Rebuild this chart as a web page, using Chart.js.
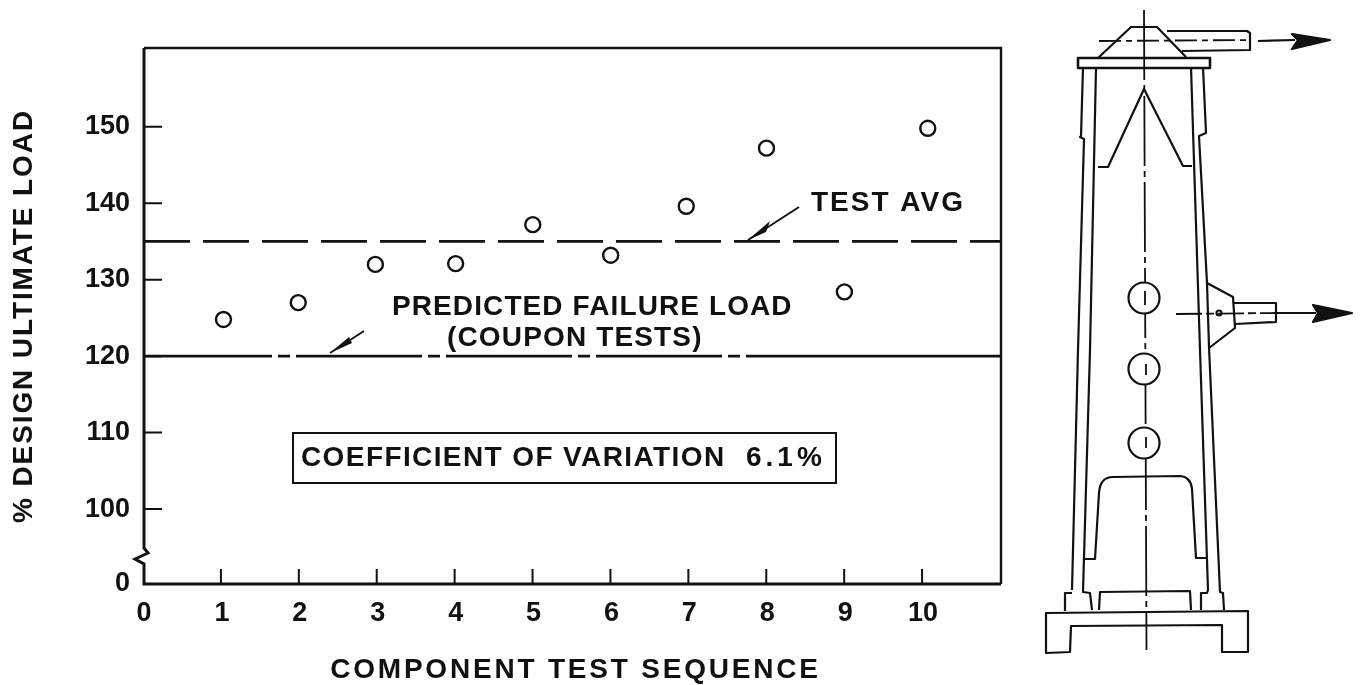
<!DOCTYPE html>
<html><head><meta charset="utf-8">
<style>html,body{margin:0;padding:0;background:#fff}#w{position:relative;width:1361px;height:685px;overflow:hidden}canvas,svg{position:absolute;left:0;top:0}</style>
<script src="https://cdn.jsdelivr.net/npm/chart.js@4"></script>
</head><body><div id="w"><canvas id="c" width="1361" height="685"></canvas>
<svg width="1361" height="685" viewBox="0 0 1361 685" fill="none" stroke="#111" stroke-width="2.2" stroke-linejoin="round">
<path d="M1144 10L1146.5 650" stroke-width="1.8" stroke-dasharray="70 5 6 5"/>
<path d="M1098 58L1131 27L1157 27L1186 57"/>
<rect x="1078" y="58" width="132" height="10" stroke-width="2.6"/>
<path d="M1167 31L1247 31L1250 33L1250 50L1182 51"/>
<path d="M1099 41L1250 40" stroke-width="1.8" stroke-dasharray="22 5 6 5"/>
<path d="M1258 41L1295 40"/><path d="M1292 34L1330 40L1292 49L1298 40Z" fill="#111"/>
<path d="M1083 68L1081 136L1080 137L1084 139L1078 350L1072 590"/>
<path d="M1096 68L1090 350L1083 592L1090 593L1092 610"/>
<path d="M1203 67L1206 133L1199 136L1207 283L1209 347L1220 592L1223 593L1224 610"/>
<path d="M1191 67L1200 350L1208 590L1207 593L1201 593L1201 610"/>
<path d="M1072 593L1065 593L1065 611"/>
<path d="M1099 610L1100 592L1190 591L1191 610"/>
<path d="M1046 613L1248 611L1248 652L1222 652L1222 625L1071 626L1070 652L1046 653Z"/>
<path d="M1085 559L1095 559L1099 493Q1100 477 1113 477L1180 476Q1191 477 1192 489L1196 558L1207 558"/>
<path d="M1098 167L1108 167L1144 89L1183 166L1192 166"/>
<circle cx="1144" cy="298" r="15.5" fill="#fff"/><circle cx="1144" cy="369" r="15.5" fill="#fff"/><circle cx="1144" cy="443" r="15.5" fill="#fff"/>
<path d="M1145 291L1145 305M1146 364L1146 375M1146 437L1146 448" stroke-width="1.8"/>
<path d="M1207 283L1233 297L1235 328L1209 348"/><circle cx="1219" cy="313" r="2.5"/>
<path d="M1234 303L1276 303L1276 322L1235 324"/>
<path d="M1176 314L1275 313" stroke-width="1.8" stroke-dasharray="26 4 8 4"/>
<path d="M1277 313L1316 313"/><path d="M1313 305L1352 313L1313 322L1318 313Z" fill="#111"/>
</svg></div>
<script>
const xTickValues = [0, 1, 2, 3, 4, 5, 6, 7, 8, 9, 10];
const yTickValues = [100, 110, 120, 130, 140, 150];
const yBreakBase = 90.2;
const yBreakLabel = "0";
const testSequence = [1.02, 1.98, 2.97, 4.0, 4.99, 5.99, 6.96, 7.99, 8.99, 10.06];
const designLoadPct = [124.8, 127.0, 132.0, 132.1, 137.2, 133.2, 139.6, 147.2, 128.4, 149.8];
const testAvg = 135;
const predictedFailure = 120;
const xLimits = [0, 11];
const yMax = 160.3;
const INK = "#111";
const FONT = "'Liberation Sans', Arial, sans-serif";

function spaced(scale, px, dx) {
  if (scale._sp) return;
  scale._sp = true;
  const o = scale.drawTitle;
  scale.drawTitle = function () {
    const c = this.ctx; c.save(); c.translate(dx, 0); c.letterSpacing = px + "px"; o.call(this); c.restore();
  };
}
function say(c, s, x, y, size, ls, align) {
  c.font = "bold " + size + "px " + FONT; c.letterSpacing = ls + "px";
  c.textAlign = align || "left"; c.textBaseline = "middle"; c.fillStyle = INK; c.fillText(s, x, y);
}
const decor = {
  id: "decor",
  beforeDraw(ch) {
    ch.ctx.letterSpacing = "0px";
    spaced(ch.scales.x, 2.8, 3); spaced(ch.scales.y, 1.9, 0);
  },
  beforeDatasetsDraw(ch) {
    const c = ch.ctx, a = ch.chartArea, xs = ch.scales.x, ys = ch.scales.y;
    c.save(); c.strokeStyle = INK; c.lineCap = "butt";
    c.lineWidth = 3; c.beginPath();
    c.moveTo(a.left, a.top); c.lineTo(a.left, 548); c.lineTo(148, 553); c.lineTo(135, 559); c.lineTo(a.left, 564); c.lineTo(a.left, a.bottom + 1.5);
    c.moveTo(a.left - 1.5, a.bottom); c.lineTo(a.right, a.bottom); c.stroke();
    c.lineWidth = 2.4; c.beginPath();
    c.moveTo(a.left, a.top); c.lineTo(a.right, a.top); c.lineTo(a.right, a.bottom); c.stroke();
    c.lineWidth = 2; c.beginPath();
    xTickValues.slice(1).forEach(v => { const p = xs.getPixelForValue(v) - 1; c.moveTo(p, a.bottom); c.lineTo(p, a.bottom - 15); });
    yTickValues.forEach(v => { const p = ys.getPixelForValue(v); c.moveTo(a.left, p); c.lineTo(a.left + 18, p); });
    c.stroke(); c.restore();
  },
  afterDatasetsDraw(ch) {
    const c = ch.ctx;
    c.save(); c.strokeStyle = INK; c.fillStyle = INK;
    c.lineWidth = 2; c.beginPath();
    c.moveTo(799, 207); c.lineTo(748, 240); c.moveTo(364, 331); c.lineTo(330, 353); c.stroke();
    c.beginPath(); c.moveTo(748, 240); c.lineTo(770, 221); c.lineTo(766, 232); c.closePath(); c.fill();
    c.beginPath(); c.moveTo(330, 353); c.lineTo(349, 337); c.lineTo(352, 343); c.closePath(); c.fill();
    say(c, "TEST AVG", 811, 203, 28, 2);
    say(c, "PREDICTED FAILURE LOAD", 392, 307, 28, 1.1);
    say(c, "(COUPON TESTS)", 447, 338, 28, 1.15);
    c.lineWidth = 2; c.strokeRect(293, 433, 543, 50);
    say(c, "COEFFICIENT OF VARIATION", 301, 458, 28, 1.4);
    say(c, "6.1%", 746, 458, 28, 4);
    c.restore(); c.letterSpacing = "0px";
  }
};
new Chart(document.getElementById("c"), {
  type: "scatter",
  plugins: [decor],
  data: { datasets: [
    { label: "Test avg", data: xLimits.map(x => ({ x, y: testAvg })), showLine: true, pointRadius: 0, borderColor: INK, borderWidth: 2.8, borderDash: [46, 13] },
    { label: "Predicted failure load", data: xLimits.map(x => ({ x, y: predictedFailure })), showLine: true, pointRadius: 0, borderColor: INK, borderWidth: 2.8,
      borderDash: [128, 6, 12, 6, 126, 6, 12, 6, 126, 6, 12, 6, 126, 6, 12, 6, 300] },
    { label: "Component tests", data: testSequence.map((x, i) => ({ x, y: designLoadPct[i] })), pointRadius: 7.5, pointBorderWidth: 2.4, pointBorderColor: INK, pointBackgroundColor: "rgba(255,255,255,0)" }
  ] },
  options: {
    responsive: false, animation: false,
    layout: { padding: { top: 48, right: 360 } },
    plugins: { legend: { display: false }, tooltip: { enabled: false } },
    scales: {
      x: { type: "linear", min: xLimits[0], max: xLimits[1], border: { display: false },
        grid: { display: false, drawTicks: false },
        afterBuildTicks: s => { s.ticks = xTickValues.map(value => ({ value })); },
        afterFit: s => { s.height = 101; },
        ticks: { color: INK, padding: 13, maxRotation: 0, autoSkip: false, font: { family: FONT, weight: "bold", size: 27 }, callback: v => String(v) },
        title: { display: true, text: "COMPONENT TEST SEQUENCE", color: INK, font: { family: FONT, weight: "bold", size: 28, lineHeight: 1 }, padding: { top: 0, bottom: 1 } } },
      y: { type: "linear", min: yBreakBase, max: yMax, border: { display: false },
        grid: { display: false, drawTicks: false },
        afterBuildTicks: s => { s.ticks = [yBreakBase, ...yTickValues].map(value => ({ value })); },
        afterFit: s => { s.width = 144; },
        ticks: { color: INK, padding: 14, autoSkip: false, font: { family: FONT, weight: "bold", size: 27 }, callback: v => v === yBreakBase ? yBreakLabel : String(v) },
        title: { display: true, text: "% DESIGN ULTIMATE LOAD", color: INK, font: { family: FONT, weight: "bold", size: 28, lineHeight: 1 }, padding: { top: 10, bottom: 0 } } }
    }
  }
});
</script></body></html>
